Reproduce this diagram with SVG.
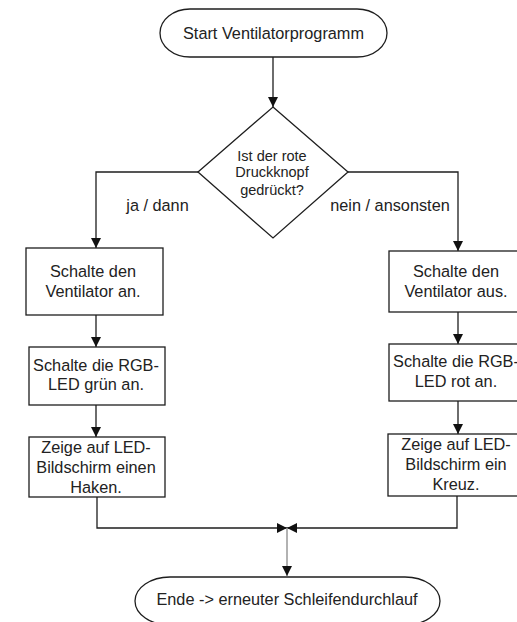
<svg xmlns="http://www.w3.org/2000/svg" width="517" height="622" viewBox="0 0 517 622">
<style>
.shape{fill:#fff;stroke:#1e1e1e;stroke-width:1.3}
.t{font-family:"Liberation Sans",Arial,sans-serif;font-size:16.3px;fill:#222;text-anchor:middle}
.ts{font-family:"Liberation Sans",Arial,sans-serif;font-size:14.5px;fill:#222;text-anchor:middle}
.c{fill:none;stroke:#1e1e1e;stroke-width:1.3}
</style>
<defs>
<marker id="ah" viewBox="0 0 10 10" refX="10" refY="5" markerWidth="10" markerHeight="10" markerUnits="userSpaceOnUse" orient="auto">
<path d="M0,0 L10,5 L0,10 Z" fill="#111"/>
</marker>
</defs>
<rect width="517" height="622" fill="#fff"/>
<g id="connectors">
<line class="c" x1="273" y1="57" x2="273" y2="107" marker-end="url(#ah)"/>
<polyline class="c" points="198,172 96,172 96,248" marker-end="url(#ah)"/>
<polyline class="c" points="348,172 458,172 458,251" marker-end="url(#ah)"/>
<line class="c" x1="96" y1="315" x2="96" y2="347" marker-end="url(#ah)"/>
<line class="c" x1="96" y1="405" x2="96" y2="437" marker-end="url(#ah)"/>
<line class="c" x1="458" y1="312" x2="458" y2="344" marker-end="url(#ah)"/>
<line class="c" x1="458" y1="401" x2="458" y2="434" marker-end="url(#ah)"/>
<polyline class="c" points="97,497 97,528 457,528 457,496"/>
<path d="M277,523 L287,528 L277,533 Z M297,523 L287,528 L297,533 Z" fill="#111"/>
<line x1="287" y1="528" x2="287" y2="576" stroke="#999" stroke-width="1.5" marker-end="url(#ah)"/>
<text class="t" x="157.5" y="211">ja / dann</text>
<text class="t" x="390" y="211">nein / ansonsten</text>
</g>
<g id="start">
<rect class="shape" x="160" y="9" width="227" height="48" rx="30" ry="24"/>
<text class="t" x="273.5" y="39">Start Ventilatorprogramm</text>
</g>
<g id="decision">
<polygon class="shape" points="273,107 348,172 273,238 198,172"/>
<text class="ts" x="272" y="161">Ist der rote</text>
<text class="ts" x="272" y="177">Druckknopf</text>
<text class="ts" x="272" y="195">gedrückt?</text>
</g>
<g id="fan-on">
<rect class="shape" x="26" y="248" width="137" height="67"/>
<text class="t" x="93" y="277">Schalte den</text>
<text class="t" x="93" y="297">Ventilator an.</text>
</g>
<g id="led-green">
<rect class="shape" x="29" y="347" width="136" height="58"/>
<text class="t" x="96" y="371">Schalte die RGB-</text>
<text class="t" x="96" y="390">LED grün an.</text>
</g>
<g id="screen-check">
<rect class="shape" x="29" y="437" width="136" height="60"/>
<text class="t" x="96" y="453">Zeige auf LED-</text>
<text class="t" x="96" y="473">Bildschirm einen</text>
<text class="t" x="96" y="493">Haken.</text>
</g>
<g id="fan-off">
<rect class="shape" x="389" y="251" width="138" height="61"/>
<text class="t" x="456" y="277">Schalte den</text>
<text class="t" x="456" y="297">Ventilator aus.</text>
</g>
<g id="led-red">
<rect class="shape" x="389" y="344" width="138" height="57"/>
<text class="t" x="456" y="367">Schalte die RGB-</text>
<text class="t" x="456" y="387">LED rot an.</text>
</g>
<g id="screen-cross">
<rect class="shape" x="388" y="434" width="138" height="62"/>
<text class="t" x="456" y="450">Zeige auf LED-</text>
<text class="t" x="456" y="470">Bildschirm ein</text>
<text class="t" x="456" y="490">Kreuz.</text>
</g>
<g id="end">
<rect class="shape" x="135" y="577" width="305" height="48" rx="35" ry="24"/>
<text class="t" x="287" y="605">Ende -&gt; erneuter Schleifendurchlauf</text>
</g>
</svg>
